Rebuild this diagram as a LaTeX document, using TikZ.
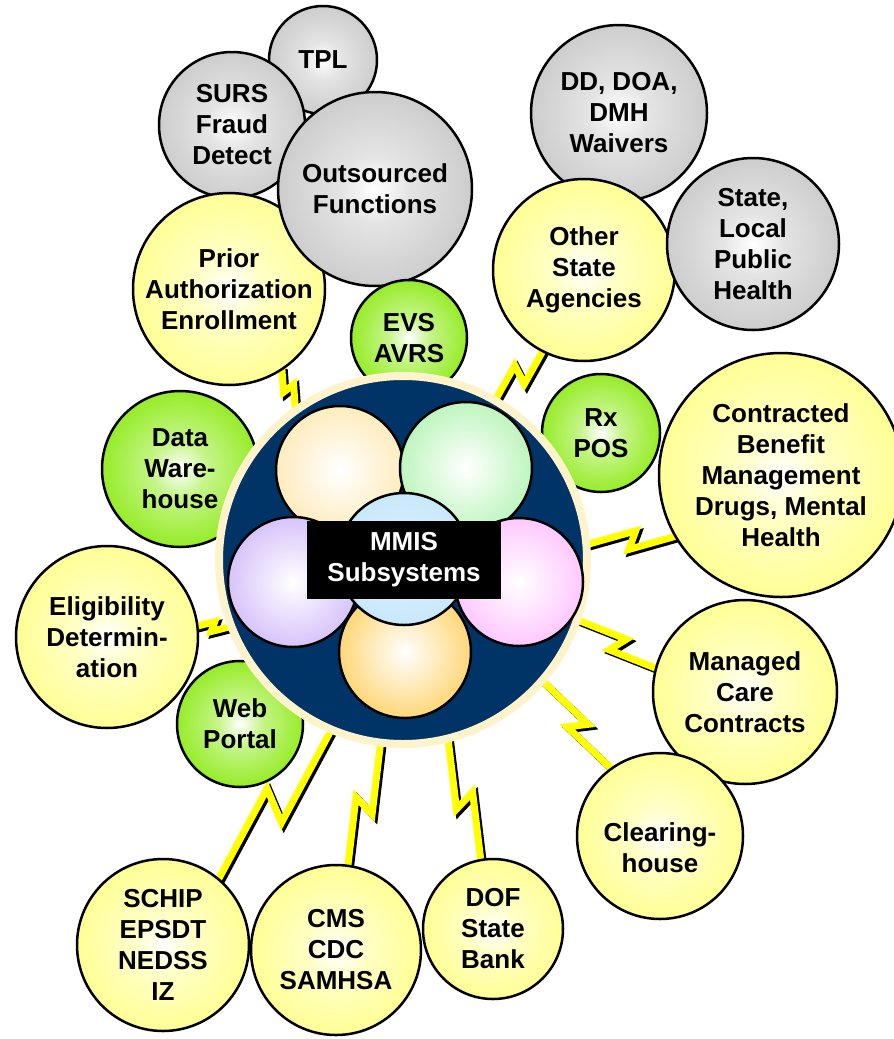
\documentclass[tikz,border=0pt]{standalone}
\usepackage{fontspec}
\setmainfont{Liberation Sans}
\usetikzlibrary{calc,backgrounds}

\definecolor{hubnavy}{RGB}{0,51,102}
\definecolor{hubrim}{RGB}{255,243,204}
\definecolor{ballyellow}{RGB}{255,255,150}
\definecolor{ballgreen}{RGB}{150,236,40}
\definecolor{ballgray}{RGB}{205,205,205}
\definecolor{boltyellow}{RGB}{255,255,0}
\definecolor{petalcream}{RGB}{255,236,190}
\definecolor{petalgreen}{RGB}{190,245,190}
\definecolor{petalpurple}{RGB}{215,195,250}
\definecolor{petalpink}{RGB}{255,200,255}
\definecolor{petalorange}{RGB}{255,215,120}
\definecolor{petalblue}{RGB}{200,232,250}

% white spot in the middle, full colour over most of the ball
\colorlet{glowin}{white}
\colorlet{glowout}{ballyellow}
\pgfdeclareradialshading[glowin,glowout]{glow}{\pgfpoint{0bp}{0bp}}{%
  color(0bp)=(glowin); color(9bp)=(glowin!45!glowout);
  color(25bp)=(glowout); color(50bp)=(glowout)}

\tikzset{
  balltext/.style={align=center, font=\bfseries\fontsize{26}{31}\selectfont},
  ball/.style={circle, draw=black, line width=2.5pt, inner sep=0pt, balltext,
    shade, shading=glow},
  yellowball/.style={ball, /utils/exec={\colorlet{glowout}{ballyellow}}},
  greenball/.style={ball, /utils/exec={\colorlet{glowout}{ballgreen}}},
  grayball/.style={ball, /utils/exec={\colorlet{glowout}{ballgray}}},
  petal/.style={draw=black, line width=2.5pt, inner color=white},
  bolt/.style={draw=boltyellow, line width=7pt, shorten <=-4pt, shorten >=-4pt},
  boltshadow/.style={bolt, draw=black, transform canvas={shift={(2.5pt,-2.5pt)}}},
}

% lightning connector: from, to, jog
\newcommand{\zap}[3]{%
  \draw[boltshadow] (#1) -- ($(#1)!0.55!(#2)!#3!90:(#2)$) -- ($(#1)!0.45!(#2)!#3!-90:(#2)$) -- (#2);
  \draw[bolt] (#1) -- ($(#1)!0.55!(#2)!#3!90:(#2)$) -- ($(#1)!0.45!(#2)!#3!-90:(#2)$) -- (#2);
}

\begin{document}
\begin{tikzpicture}[x=1pt,y=-1pt]
\useasboundingbox (0,0) rectangle (894,1039);

% gray group, top left
\node[grayball, minimum size=108pt] (tpl) at (323,60) {TPL};
\node[grayball, minimum size=146pt] (surs) at (232,125) {SURS\\Fraud\\Detect};
\node[yellowball, minimum size=192pt, inner sep=-6pt] (prior) at (229,289) {Prior\\Authorization\\Enrollment};
\node[grayball, minimum size=194pt] (outsrc) at (375,189) {Outsourced\\Functions};

% gray group, top right
\node[grayball, minimum size=176pt] (ddwaiv) at (619,113) {DD, DOA,\\DMH\\Waivers};
\node[yellowball, minimum size=182pt] (other) at (584,270) {Other\\State\\Agencies};
\node[grayball, minimum size=172pt] (pubhealth) at (753,244) {State,\\Local\\Public\\Health};

% green ones
\node[greenball, minimum size=116pt] (evs) at (409,338) {EVS\\AVRS};
\node[greenball, minimum size=118pt] (rxpos) at (601,433) {Rx\\POS};
\node[greenball, minimum size=156pt] (dwh) at (180,469) {Data\\Ware-\\house};
\node[greenball, minimum size=126pt] (web) at (240,724) {Web\\Portal};

% yellow ring
\node[yellowball, minimum size=244pt] (cbm) at (781,475) {Contracted\\Benefit\\Management\\Drugs, Mental\\Health};
\node[yellowball, minimum size=184pt] (mcc) at (745,692) {Managed\\Care\\Contracts};
\node[yellowball, minimum size=166pt, label={[balltext, yshift=-12pt]center:{Clearing-\\house}}] (clear) at (660,836) {};
\node[yellowball, minimum size=140pt] (dof) at (493,929) {DOF\\State\\Bank};
\node[yellowball, minimum size=170pt] (cms) at (336,950) {CMS\\CDC\\SAMHSA};
\node[yellowball, minimum size=172pt] (schip) at (163,945) {SCHIP\\EPSDT\\NEDSS\\IZ};
\node[yellowball, minimum size=182pt] (elig) at (107,637) {Eligibility\\Determin-\\ation};

% hub with subsystems
\node[circle, fill=hubnavy, draw=hubrim, line width=8pt, minimum size=368pt] (hub) at (403,560) {};
\draw[petal, outer color=petalcream] (340,470) circle (64pt);
\draw[petal, outer color=petalgreen] (466,468) circle (66pt);
\draw[petal, outer color=petalpurple] (293,582) circle (65pt);
\draw[petal, outer color=petalpink] (519,582) circle (64pt);
\draw[petal, outer color=petalorange] (405,652) circle (66pt);
\draw[petal, inner color=petalblue!60, outer color=petalblue] (404,559) circle (66pt);
\node[balltext, fill=black, text=white, minimum width=194pt, minimum height=78pt] (mmis) at (404,560) {MMIS\\Subsystems};

\begin{scope}[on background layer]
\zap{hub.125}{prior.-57}{-6pt}
\zap{hub.60}{other.-117}{10pt}
\zap{hub.5}{cbm.210}{9pt}
\zap{hub.-19}{mcc.165}{9pt}
\zap{hub.-41}{clear.126}{9pt}
\zap{hub.-76}{dof.100}{-10pt}
\zap{hub.-97}{cms.82}{10pt}
\zap{hub.-113}{schip.50}{16pt}
\zap{hub.201}{elig.7}{5pt}
\end{scope}
\end{tikzpicture}
\end{document}
